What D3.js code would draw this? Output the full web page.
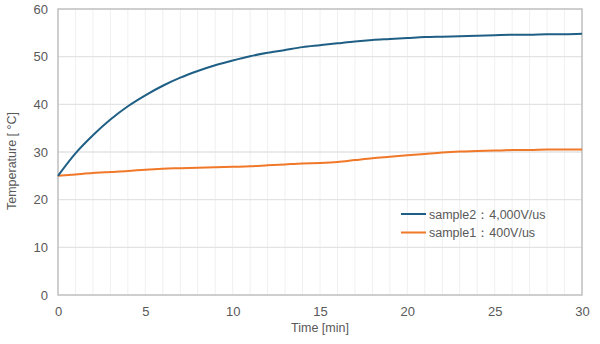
<!DOCTYPE html>
<html><head><meta charset="utf-8">
<script src="https://cdn.jsdelivr.net/npm/d3@7"></script>
<style>
body{margin:0;background:#fff;}
svg{display:block;font-family:Arial,"Liberation Sans",sans-serif;}
</style></head>
<body><svg id="c" width="600" height="344"></svg>
<script>
const times = d3.range(0, 31);
const sample2 = [25.0,29.7,33.5,36.8,39.6,41.9,43.9,45.6,47.0,48.2,49.2,50.1,50.8,51.4,52.0,52.4,52.8,53.2,53.5,53.7,53.9,54.1,54.2,54.3,54.4,54.5,54.6,54.6,54.7,54.7,54.8];
const sample1 = [25.0,25.3,25.6,25.8,26.0,26.3,26.5,26.6,26.7,26.8,26.9,27.0,27.2,27.4,27.6,27.7,27.9,28.3,28.7,29.0,29.3,29.6,29.9,30.1,30.2,30.3,30.4,30.4,30.5,30.5,30.5];
const seriesNames = ["sample2：4,000V/us","sample1：400V/us"];
const xTicks = [0,5,10,15,20,25,30];
const yTicks = [0,10,20,30,40,50,60];

const svg = d3.select("#c");
const L=58,R=582,T=9,B=295;
const x = d3.scaleLinear().domain([0,30]).range([L,R]);
const y = d3.scaleLinear().domain([0,60]).range([B,T]);
const textCol="#595959";

// minor vertical grid
svg.append("g").selectAll("line").data(d3.range(1,30)).join("line")
  .attr("x1",d=>x(d)).attr("x2",d=>x(d)).attr("y1",T).attr("y2",B)
  .attr("stroke","#f0f0f0").attr("stroke-width",1);
// horizontal grid
svg.append("g").selectAll("line").data(yTicks.slice(1,-1)).join("line")
  .attr("x1",L).attr("x2",R).attr("y1",d=>y(d)).attr("y2",d=>y(d))
  .attr("stroke","#e3e3e3").attr("stroke-width",1.3);
// border
svg.append("rect").attr("x",L).attr("y",T).attr("width",R-L).attr("height",B-T)
  .attr("fill","none").attr("stroke","#bfbfbf").attr("stroke-width",1.5);

// axes
const xAxis = svg.append("g").attr("transform",`translate(0,${B})`)
  .call(d3.axisBottom(x).tickValues(xTicks).tickSize(0).tickPadding(12));
const yAxis = svg.append("g").attr("transform",`translate(${L},0)`)
  .call(d3.axisLeft(y).tickValues(yTicks).tickSize(0).tickPadding(10));
[xAxis,yAxis].forEach(a=>{a.select(".domain").remove();
  a.selectAll("text").attr("fill",textCol).attr("font-size",13).attr("font-family","Arial,'Liberation Sans',sans-serif");});

svg.append("text").attr("x",x(15)).attr("y",332).attr("text-anchor","middle")
  .attr("fill",textCol).attr("font-size",12.5).text("Time [min]");
svg.append("text").attr("transform",`translate(16,161) rotate(-90)`).attr("text-anchor","middle")
  .attr("fill",textCol).attr("font-size",12.5).text("Temperature [ °C]");

const colors=["#1f5f85","#f07828"];
const line = d3.line().x((d,i)=>x(times[i])).y(d=>y(d)).curve(d3.curveMonotoneX);
[sample1,sample2].forEach((s,k)=>{
  svg.append("path").datum(s).attr("d",line).attr("fill","none")
    .attr("stroke",k===1?colors[0]:colors[1]).attr("stroke-width",2);
});

// legend
const lg = svg.append("g");
seriesNames.forEach((n,i)=>{
  const yy = 214 + i*18.5;
  lg.append("line").attr("x1",401).attr("x2",426).attr("y1",yy).attr("y2",yy)
    .attr("stroke",colors[i]).attr("stroke-width",2);
  lg.append("text").attr("x",429).attr("y",yy+4.5).attr("fill",textCol).attr("font-size",12.5).text(n);
});
</script></body></html>
